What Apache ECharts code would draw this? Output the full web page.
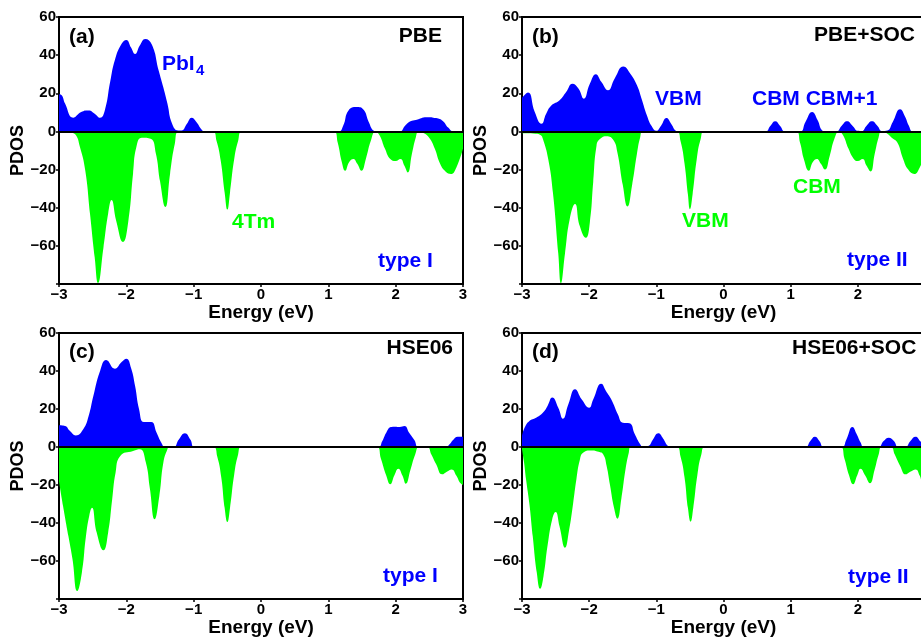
<!DOCTYPE html>
<html>
<head>
<meta charset="utf-8">
<script src="https://cdn.jsdelivr.net/npm/echarts@6/dist/echarts.min.js"></script>
<style>
html, body { margin: 0; padding: 0; background: #fff; }
#chart { width: 921px; height: 637px; }
</style>
</head>
<body>
<div id="chart"></div>
<script>
// 坐标轴刻度
var xTicks = [-3, -2, -1, 0, 1, 2, 3];
var yTicks = [-80, -60, -40, -20, 0, 20, 40, 60];
var yShown = [60, 40, 20, 0, -20, -40, -60];

// (a) PBE: PbI4 (up) / 4Tm (down)
var aUp = [[-3,19.5],[-2.96,19],[-2.91,14.6],[-2.79,7.2],[-2.67,10.2],[-2.56,11],[-2.47,9.3],[-2.39,7.2],[-2.32,11],[-2.24,26],[-2.17,37.5],[-2.07,46],[-2.0,48],[-1.93,44],[-1.87,40.6],[-1.8,45],[-1.72,48.4],[-1.62,45.4],[-1.52,32],[-1.45,23],[-1.39,14.6],[-1.32,4],[-1.23,0.5],[-1.18,0.5],[-1.1,4],[-1.03,7.2],[-0.96,5],[-0.88,0.9],[-0.84,0],[1.15,0],[1.22,3],[1.3,11],[1.42,12.8],[1.52,11.5],[1.6,5],[1.67,0.5],[1.72,0],[2.06,0],[2.14,3],[2.22,5.3],[2.3,6],[2.46,7.5],[2.6,7],[2.7,5.5],[2.78,2],[2.86,0],[3,0]];
var aDn = [[-3,0],[-2.84,-0.5],[-2.76,-1.5],[-2.69,-8],[-2.61,-20.5],[-2.54,-43],[-2.47,-66],[-2.42,-79.5],[-2.34,-61],[-2.27,-43],[-2.22,-36],[-2.15,-47],[-2.05,-58],[-1.97,-47],[-1.9,-22],[-1.85,-8],[-1.77,-3.3],[-1.64,-3.8],[-1.56,-11.8],[-1.5,-26],[-1.42,-39.6],[-1.35,-22],[-1.28,-6.5],[-1.22,0],[-0.72,0],[-0.66,-5],[-0.6,-15],[-0.54,-32],[-0.5,-41],[-0.46,-32],[-0.4,-15],[-0.34,-5],[-0.28,0],[1.08,0],[1.14,-6],[1.2,-16],[1.25,-20.6],[1.31,-16],[1.37,-14.4],[1.43,-17],[1.49,-20.6],[1.56,-14],[1.63,-5],[1.7,0],[1.76,-2],[1.84,-9],[1.92,-14.5],[2.0,-15.5],[2.07,-14.4],[2.13,-18],[2.18,-21.5],[2.24,-12],[2.3,-3],[2.34,0],[2.42,-1],[2.5,-3.5],[2.58,-9],[2.66,-17],[2.74,-21],[2.82,-22.3],[2.9,-19],[3,-9]];

// (b) PBE+SOC
var bUp = [[-3,17.6],[-2.91,20.4],[-2.81,10.2],[-2.71,4],[-2.64,9.3],[-2.56,13.7],[-2.44,16.4],[-2.34,20.8],[-2.25,25],[-2.16,22.5],[-2.08,17.2],[-1.99,25],[-1.9,30],[-1.82,26],[-1.72,21.6],[-1.62,27.8],[-1.49,34],[-1.39,30.4],[-1.29,24.3],[-1.22,17.2],[-1.14,8.4],[-1.07,2.8],[-1.0,0.3],[-0.93,3],[-0.85,7],[-0.78,4],[-0.71,0.3],[-0.68,0],[0.62,0],[0.7,3],[0.77,5.3],[0.84,3],[0.92,0],[1.14,0],[1.22,5],[1.32,10.2],[1.4,6],[1.47,0.5],[1.52,0],[1.68,0],[1.76,3],[1.84,5.3],[1.92,3],[2.0,0.3],[2.06,0.2],[2.13,3],[2.21,5.3],[2.29,3],[2.36,0.2],[2.44,0.5],[2.52,5],[2.63,11.6],[2.7,8],[2.76,3],[2.82,0],[3,0]];
var bDn = [[-3,-1],[-2.8,-1.2],[-2.72,-2],[-2.69,-3.9],[-2.61,-14.4],[-2.54,-32],[-2.46,-64],[-2.42,-79.5],[-2.36,-64],[-2.29,-46],[-2.21,-38],[-2.14,-49.6],[-2.05,-55.8],[-1.99,-47.8],[-1.94,-26.7],[-1.89,-7.4],[-1.84,-4],[-1.74,-2.5],[-1.64,-4.5],[-1.58,-11],[-1.5,-28],[-1.43,-39.4],[-1.36,-28],[-1.29,-12],[-1.24,-3],[-1.2,0],[-0.7,0],[-0.64,-5],[-0.58,-17],[-0.53,-33],[-0.5,-40.8],[-0.46,-33],[-0.4,-15],[-0.34,-4],[-0.28,0],[1.08,0],[1.14,-6],[1.2,-15],[1.27,-20.6],[1.33,-16],[1.39,-14.4],[1.45,-17],[1.51,-20],[1.58,-13],[1.65,-4],[1.72,0],[1.78,-2],[1.86,-9],[1.94,-14.4],[2.0,-15.5],[2.07,-14.4],[2.13,-18],[2.19,-21],[2.25,-12],[2.31,-3],[2.35,0],[2.43,-1],[2.51,-3.5],[2.59,-6],[2.67,-14],[2.75,-20],[2.84,-22.3],[2.92,-19],[3,-12]];

// (c) HSE06
var cUp = [[-3,11.4],[-2.91,11],[-2.84,8.5],[-2.75,6.1],[-2.64,9.3],[-2.56,16.3],[-2.49,26.8],[-2.39,40],[-2.3,45.8],[-2.17,41.2],[-2.07,44.7],[-2.0,46.5],[-1.93,41.6],[-1.87,32.1],[-1.81,19.8],[-1.74,13.2],[-1.63,13.2],[-1.55,7.5],[-1.48,2.3],[-1.42,0],[-1.3,0],[-1.22,4],[-1.13,7.2],[-1.05,4],[-0.98,0],[1.74,0],[1.8,3],[1.86,7.5],[1.93,10.5],[1.99,10.7],[2.06,10.5],[2.13,11],[2.2,7.5],[2.28,3.5],[2.34,0],[2.74,0],[2.8,1.5],[2.86,4],[2.92,5.4],[3,5.4]];
var cDn = [[-3,-18],[-2.94,-31],[-2.86,-47],[-2.8,-59],[-2.73,-75.8],[-2.66,-66],[-2.6,-47],[-2.55,-36],[-2.51,-32],[-2.44,-45],[-2.34,-54.4],[-2.27,-45],[-2.21,-27.5],[-2.16,-13.5],[-2.09,-4.7],[-1.9,-2.1],[-1.8,-1.2],[-1.71,-8.2],[-1.65,-22],[-1.58,-38],[-1.51,-25.8],[-1.45,-8.2],[-1.39,-1.2],[-1.36,0],[-0.71,0],[-0.65,-5],[-0.59,-16],[-0.54,-32],[-0.5,-39.5],[-0.46,-32],[-0.4,-15],[-0.34,-4],[-0.29,0],[1.72,0],[1.78,-6],[1.86,-15],[1.92,-19.6],[1.98,-15],[2.04,-11.4],[2.1,-15],[2.15,-19.3],[2.22,-12],[2.29,-4],[2.35,0],[2.47,0],[2.53,-4],[2.6,-9],[2.69,-14.4],[2.76,-13],[2.83,-11.8],[2.9,-15],[2.96,-19],[3,-20]];

// (d) HSE06+SOC
var dUp = [[-3,5.8],[-2.96,10.2],[-2.89,13.7],[-2.79,15.4],[-2.69,18],[-2.62,21.6],[-2.55,26],[-2.46,20.7],[-2.39,14.9],[-2.31,22.5],[-2.21,30.4],[-2.11,25],[-2.0,20.7],[-1.94,25],[-1.82,33.3],[-1.75,29.5],[-1.67,25],[-1.57,17],[-1.5,12.8],[-1.4,12.5],[-1.32,6.7],[-1.24,1.4],[-1.2,0],[-1.12,0.5],[-1.05,4],[-0.97,7.2],[-0.9,4.5],[-0.84,1],[-0.8,0],[1.22,0],[1.29,3],[1.36,5.4],[1.43,3],[1.49,0],[1.76,0],[1.83,4],[1.92,10.5],[1.98,7],[2.04,2.5],[2.09,0],[2.31,0],[2.38,3],[2.46,4.9],[2.54,3],[2.6,0],[2.71,0],[2.78,3],[2.86,5.4],[2.93,3],[3,0.5]];
var dDn = [[-3,-1],[-2.97,-8],[-2.94,-17],[-2.89,-30],[-2.84,-47],[-2.78,-66],[-2.73,-74.6],[-2.68,-68],[-2.62,-52],[-2.55,-38],[-2.5,-34.2],[-2.44,-42],[-2.36,-53],[-2.3,-44],[-2.24,-30],[-2.19,-17],[-2.14,-7],[-2.09,-3],[-1.97,-1.8],[-1.86,-2.5],[-1.79,-3.9],[-1.74,-10],[-1.69,-20],[-1.63,-32],[-1.58,-37.7],[-1.52,-27],[-1.46,-12],[-1.41,-3],[-1.38,0],[-0.7,0],[-0.64,-5],[-0.58,-16],[-0.53,-32],[-0.49,-39.3],[-0.45,-32],[-0.39,-15],[-0.33,-4],[-0.27,0],[1.74,0],[1.8,-6],[1.87,-15],[1.93,-19.6],[1.99,-15],[2.04,-11.4],[2.11,-15],[2.18,-19.1],[2.25,-12],[2.31,-4],[2.36,0],[2.49,0],[2.55,-4],[2.63,-10],[2.71,-14.4],[2.78,-13],[2.86,-11.8],[2.92,-15],[2.96,-18.8],[3,-20]];

var upList = [aUp, bUp, cUp, dUp];
var dnList = [aDn, bDn, cDn, dDn];

var BLUE = "#0000ff";
var GREEN = "#00ff00";
var FONT = "'Liberation Sans', Arial, sans-serif";

var myChart = echarts.init(document.getElementById("chart"));

// 四个面板的位置 (右侧两个面板超出画布，被裁掉)
var grids = [
    { left: 59, top: 17, width: 404, height: 267 },
    { left: 522, top: 17, width: 403, height: 267 },
    { left: 59, top: 333, width: 404, height: 266 },
    { left: 522, top: 333, width: 403, height: 266 }
];

function minus(v) {
    return String(v).replace("-", "\u2212");
}

var xAxes = [], yAxes = [], series = [];
grids.forEach(function (g, i) {
    g.show = true;
    g.borderColor = "#000";
    g.borderWidth = 2;
    g.containLabel = false;
    g.outerBoundsMode = "none";
    xAxes.push({
        gridIndex: i,
        type: "value",
        min: xTicks[0],
        max: xTicks[xTicks.length - 1],
        interval: 1,
        name: "Energy (eV)",
        nameLocation: "middle",
        nameGap: 16,
        nameTextStyle: { color: "#000", fontSize: 19, fontWeight: "bold", fontFamily: FONT },
        axisLine: { onZero: false, lineStyle: { color: "#000", width: 2 } },
        axisTick: { show: true, length: 3, lineStyle: { color: "#000", width: 1.5 } },
        axisLabel: {
            margin: 3, color: "#000", fontSize: 15, fontWeight: "bold", fontFamily: FONT,
            formatter: function (v) { return minus(v); }
        },
        splitLine: { show: false }
    });
    yAxes.push({
        gridIndex: i,
        type: "value",
        min: yTicks[0],
        max: yTicks[yTicks.length - 1],
        interval: 20,
        name: "PDOS",
        nameLocation: "middle",
        nameGap: 32,
        nameTextStyle: { color: "#000", fontSize: 18, fontWeight: "bold", fontFamily: FONT },
        axisLine: { onZero: false, lineStyle: { color: "#000", width: 2 } },
        axisTick: { show: true, length: 3, lineStyle: { color: "#000", width: 1.5 } },
        axisLabel: {
            margin: 3, color: "#000", fontSize: 15, fontWeight: "bold", fontFamily: FONT,
            formatter: function (v) { return yShown.indexOf(v) >= 0 ? minus(v) : ""; }
        },
        splitLine: { show: false }
    });
    series.push({
        type: "line", xAxisIndex: i, yAxisIndex: i,
        data: dnList[i], smooth: 0.5,
        symbol: "none", silent: true, animation: false,
        lineStyle: { width: 0, color: GREEN },
        areaStyle: { color: GREEN, opacity: 1 },
        z: 2
    });
    series.push({
        type: "line", xAxisIndex: i, yAxisIndex: i,
        data: upList[i], smooth: 0.5,
        symbol: "none", silent: true, animation: false,
        lineStyle: { width: 0, color: BLUE },
        areaStyle: { color: BLUE, opacity: 1 },
        z: 3,
        // 零线
        markLine: {
            silent: true, animation: false, symbol: ["none", "none"],
            label: { show: false },
            lineStyle: { color: "#000", width: 2, type: "solid" },
            data: [{ yAxis: 0 }]
        }
    });
});

// 面板中的文字
function txt(text, x, y, color, align, size) {
    return {
        type: "text", x: x, y: y, z: 10, silent: true,
        style: {
            text: text, fill: color, align: align || "left", verticalAlign: "middle",
            font: "bold " + (size || 21) + "px " + FONT
        }
    };
}

var labels = [
    txt("(a)", 69, 37, "#000"),
    txt("PBE", 442, 36, "#000", "right"),
    txt("PbI", 162, 64, BLUE),
    txt("4", 196, 71, BLUE, "left", 15),
    txt("4Tm", 232, 222, GREEN),
    txt("type I", 378, 261, BLUE),
    txt("(b)", 532, 37, "#000"),
    txt("PBE+SOC", 915, 35, "#000", "right"),
    txt("VBM", 655, 99, BLUE),
    txt("CBM CBM+1", 752, 99, BLUE),
    txt("CBM", 793, 187, GREEN),
    txt("VBM", 682, 221, GREEN),
    txt("type II", 847, 260, BLUE),
    txt("(c)", 69, 352, "#000"),
    txt("HSE06", 453, 348, "#000", "right"),
    txt("type I", 383, 576, BLUE),
    txt("(d)", 532, 352, "#000"),
    txt("HSE06+SOC", 792, 348, "#000"),
    txt("type II", 848, 577, BLUE)
];

var option = {
    animation: false,
    backgroundColor: "#fff",
    grid: grids,
    xAxis: xAxes,
    yAxis: yAxes,
    series: series,
    graphic: labels
};
myChart.setOption(option);
window.addEventListener("resize", function () {
    myChart.resize();
});
</script>
</body>
</html>
